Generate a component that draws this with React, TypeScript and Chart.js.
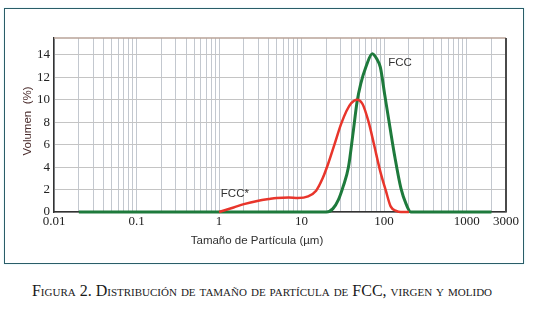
import React, { useEffect, useRef } from "react";
import { Chart, registerables } from "chart.js";

Chart.register(...registerables);

// FCC (virgen) — particle size (µm) vs volume (%)
const fccSize = [0.02, 20, 24, 28, 32, 37, 42, 47, 52, 60, 72, 82, 90, 102, 118, 135, 160, 185, 210, 2000];
const fccVolume = [0, 0, 0.3, 1.1, 2.3, 4.0, 7.0, 9.8, 11.4, 12.9, 14.1, 13.6, 12.9, 10.4, 7.5, 4.9, 2.1, 0.7, 0, 0];

// FCC* (molido)
const fccStarSize = [1, 1.5, 2, 3, 4, 5, 7, 9, 12, 15, 18, 21, 25, 30, 35, 40, 47, 55, 65, 75, 90, 105, 120, 140, 160, 200];
const fccStarVolume = [0, 0.4, 0.7, 1.0, 1.15, 1.25, 1.3, 1.25, 1.4, 1.9, 3.0, 4.3, 6.0, 7.8, 9.0, 9.7, 10.0, 9.6, 8.0, 6.1, 3.6, 1.9, 0.5, 0.1, 0, 0];

const xMajorTicks = [0.01, 0.1, 1, 10, 100, 1000, 3000];
const xDecades = [0.01, 0.1, 1, 10, 100, 1000];
const yTicks = [0, 2, 4, 6, 8, 10, 12, 14];

const xTitle = "Tamaño de Partícula (µm)";
const yTitle = "Volumen  (%)";
const caption = "Figura 2. Distribución de tamaño de partícula de FCC, virgen y molido";

const X_MIN = 0.01;
const X_MAX = 3000;

const decor = {
  id: "decor",
  afterDraw(chart: any) {
    const { ctx, chartArea: a, scales } = chart;
    ctx.save();
    // top frame
    ctx.strokeStyle = "#b9a399";
    ctx.lineWidth = 1.5;
    ctx.beginPath();
    ctx.moveTo(a.left, a.top);
    ctx.lineTo(a.right, a.top);
    ctx.stroke();
    // right frame
    ctx.strokeStyle = "#4a4a4a";
    ctx.lineWidth = 2;
    ctx.beginPath();
    ctx.moveTo(a.right, a.top);
    ctx.lineTo(a.right, a.bottom);
    ctx.stroke();

    // series labels
    ctx.font = '11.5px "Liberation Sans"';
    ctx.fillStyle = "#333333";
    ctx.textBaseline = "middle";
    ctx.textAlign = "left";
    ctx.fillText("FCC", scales.x.getPixelForValue(112), scales.y.getPixelForValue(13.3));
    ctx.fillText("FCC*", scales.x.getPixelForValue(1.05), scales.y.getPixelForValue(1.6));

    // axis titles
    ctx.font = '11.5px "Liberation Sans"';
    ctx.fillStyle = "#2f2f2f";
    ctx.textAlign = "center";
    ctx.fillText(xTitle, 257, 241);

    ctx.save();
    ctx.translate(28, 121);
    ctx.rotate(-Math.PI / 2);
    ctx.fillStyle = "#4a2c2c";
    ctx.fillText(yTitle, 0, 0);
    ctx.restore();

    ctx.restore();
  },
};

export default function App() {
  const ref = useRef<HTMLCanvasElement | null>(null);

  useEffect(() => {
    if (!ref.current) return;
    const gridTicks: number[] = [];
    xDecades.forEach((d) => {
      for (let m = 1; m <= 9; m++) {
        const v = m * d;
        if (v <= X_MAX) gridTicks.push(v);
      }
    });
    if (!gridTicks.includes(X_MAX)) gridTicks.push(X_MAX);

    const chart = new Chart(ref.current, {
      type: "line",
      data: {
        datasets: [
          {
            label: "FCC*",
            data: fccStarSize.map((x, i) => ({ x, y: fccStarVolume[i] })),
            borderColor: "#e8352b",
            borderWidth: 2.5,
            pointRadius: 0,
            cubicInterpolationMode: "monotone",
            clip: false,
          } as any,
          {
            label: "FCC",
            data: fccSize.map((x, i) => ({ x, y: fccVolume[i] })),
            borderColor: "#1e7a3c",
            borderWidth: 3,
            pointRadius: 0,
            cubicInterpolationMode: "monotone",
            clip: false,
          } as any,
        ],
      },
      options: {
        responsive: false,
        animation: false,
        events: [],
        layout: { padding: { left: 14, right: 30, top: 38, bottom: 38 } },
        plugins: { legend: { display: false }, tooltip: { enabled: false } },
        scales: {
          x: {
            type: "logarithmic",
            min: X_MIN,
            max: X_MAX,
            afterBuildTicks: (s: any) => {
              s.ticks = gridTicks.map((v) => ({ value: v }));
            },
            afterFit: (s: any) => {
              s.height = 20;
            },
            ticks: {
              autoSkip: false,
              maxRotation: 0,
              padding: 2,
              color: "#222222",
              font: { family: '"Liberation Serif"', size: 13 },
              callback: (v: any) => (xMajorTicks.includes(v) ? String(v) : ""),
            },
            grid: { color: "#c3c8cf", lineWidth: 1, drawTicks: false },
            border: { color: "#333333", width: 1.5 },
          },
          y: {
            type: "linear",
            min: 0,
            max: 15.5,
            afterBuildTicks: (s: any) => {
              s.ticks = yTicks.map((v) => ({ value: v }));
            },
            afterFit: (s: any) => {
              s.width = 40;
            },
            ticks: {
              padding: 4,
              color: "#222222",
              font: { family: '"Liberation Serif"', size: 13 },
            },
            grid: { color: "#c4c4c4", lineWidth: 1, drawTicks: false },
            border: { color: "#333333", width: 1.5 },
          },
        },
      },
      plugins: [decor],
    });
    return () => chart.destroy();
  }, []);

  return (
    <div style={{ position: "absolute", left: 0, top: 0, width: 536, height: 311, background: "#ffffff" }}>
      <div
        style={{
          position: "absolute",
          left: 4,
          top: 8,
          width: 520,
          height: 256,
          boxSizing: "border-box",
          border: "1.5px solid #2a5d68",
          boxShadow: "0 0 2px #cdeef3",
        }}
      />
      <canvas
        ref={ref}
        width={536}
        height={270}
        style={{ position: "absolute", left: 0, top: 0, width: 536, height: 270 }}
      />
      <div
        style={{
          position: "absolute",
          left: 0,
          top: 281,
          width: 524,
          textAlign: "center",
          whiteSpace: "nowrap",
          fontFamily: '"Liberation Serif"',
          fontSize: 16,
          lineHeight: "20px",
          fontVariant: "small-caps",
          color: "#1a1a1a",
        }}
      >
        {caption}
      </div>
    </div>
  );
}
